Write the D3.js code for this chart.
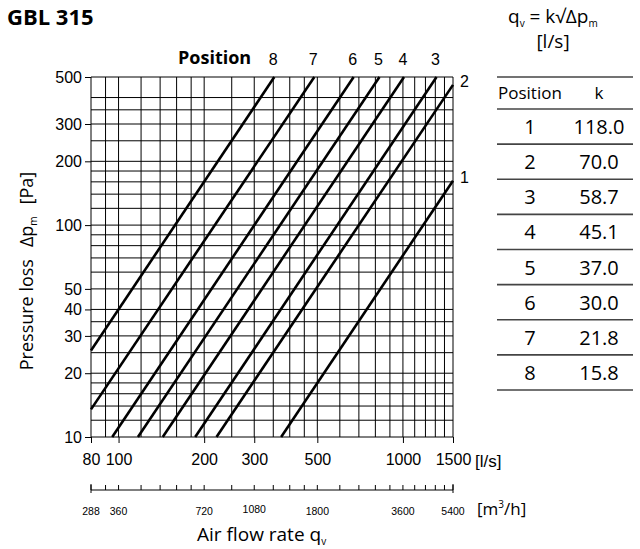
<!DOCTYPE html>
<html><head><meta charset="utf-8">
<script src="https://cdn.jsdelivr.net/npm/d3@7"></script>
<style>body{margin:0;background:#fff}svg{display:block}</style>
</head><body>
<script>
// ---- data ----
const positions = [1, 2, 3, 4, 5, 6, 7, 8];
const kValues = [118.0, 70.0, 58.7, 45.1, 37.0, 30.0, 21.8, 15.8];
// line endpoints: [q start, dp start, q end, dp end]
const lineStartQ = [373, 221, 186, 143, 117, 95, 80, 80];
const lineStartDp = [10, 10, 10, 10, 10, 10, 13.5, 25.6];
const lineEndQ = [1500, 1500, 1313, 1009, 827, 671, 488, 353];
const lineEndDp = [162, 459, 500, 500, 500, 500, 500, 500];
const gridQ = [80,90,100,120,140,160,180,200,250,300,350,400,450,500,600,700,800,900,1000,1100,1200,1300,1400,1500];
const gridDp = [10,12,14,16,18,20,25,30,35,40,50,60,70,80,90,100,120,140,160,180,200,250,300,350,400,500];
const qTicks = [80, 100, 200, 300, 500, 1000, 1500];
const dpTicks = [10, 20, 30, 40, 50, 100, 200, 300, 500];
const m3hTicks = [288, 360, 720, 1080, 1800, 3600, 5400];
const m3hMinor = gridQ.map(q => q * 3.6);

const W = 640, H = 549;
const svg = d3.select("body").append("svg").attr("width", W).attr("height", H);
const x = d3.scaleLog().domain([80, 1500]).range([91, 453]);
const y = d3.scaleLog().domain([10, 500]).range([437, 77]);
const x2 = d3.scaleLog().domain([288, 5400]).range([91, 453]);
const tickFont = "'Liberation Sans', Arial, sans-serif";
const textFont = "'Open Sans', 'Noto Sans', sans-serif";

// grid
const g = svg.append("g");
g.selectAll("line.v").data(gridQ).join("line")
  .attr("x1", d => x(d)).attr("x2", d => x(d)).attr("y1", y(500)).attr("y2", y(10))
  .attr("stroke", "#000").attr("stroke-width", 1);
g.selectAll("line.h").data(gridDp).join("line")
  .attr("y1", d => y(d)).attr("y2", d => y(d)).attr("x1", x(80)).attr("x2", x(1500))
  .attr("stroke", "#000").attr("stroke-width", 1);

// y axis
const yAxis = d3.axisLeft(y).tickValues(dpTicks).tickFormat(d3.format("d")).tickSize(6).tickPadding(3);
svg.append("g").attr("transform", `translate(${x(80)},0)`).call(yAxis)
  .call(a => a.select(".domain").remove())
  .call(a => a.selectAll("text").attr("font-family", tickFont).attr("font-size", 16).attr("fill", "#000"));

// x axis
const xAxis = d3.axisBottom(x).tickValues(qTicks).tickFormat(d3.format("d")).tickSize(6).tickPadding(11);
svg.append("g").attr("transform", `translate(0,${y(10)})`).call(xAxis)
  .call(a => a.select(".domain").remove())
  .call(a => a.selectAll("text").attr("font-family", tickFont).attr("font-size", 16).attr("fill", "#000"));
svg.append("text").attr("x", 475).attr("y", 467).attr("font-family", tickFont).attr("font-size", 17).text("[l/s]");

// secondary axis (m3/h)
const ax2 = svg.append("g").attr("transform", "translate(0,490)");
ax2.append("line").attr("x1", x2(288)).attr("x2", x2(5400)).attr("stroke", "#000");
ax2.selectAll("line.mi").data(m3hMinor).join("line")
  .attr("x1", d => x2(d)).attr("x2", d => x2(d)).attr("y1", 0).attr("y2", -5).attr("stroke", "#000");
ax2.selectAll("line.ma").data([288, 5400]).join("line")
  .attr("x1", d => x2(d)).attr("x2", d => x2(d)).attr("y1", 3).attr("y2", -6).attr("stroke", "#000");
ax2.selectAll("text").data(m3hTicks).join("text")
  .attr("x", d => x2(d)).attr("y", d => d === 1080 ? 23 : 25).attr("text-anchor", "middle")
  .attr("font-family", tickFont).attr("font-size", 10.5).text(d => d);
svg.append("text").attr("x", 477).attr("y", 515).attr("font-family", textFont).attr("font-size", 17)
  .html("[m<tspan font-size='10' dy='-7'>3</tspan><tspan dy='7'>/h]</tspan>");

// curves
const lineGen = d3.line().x(d => x(d[0])).y(d => y(d[1]));
svg.append("g").selectAll("path").data(positions).join("path")
  .attr("d", (p, i) => lineGen([[lineStartQ[i], lineStartDp[i]], [lineEndQ[i], lineEndDp[i]]]))
  .attr("fill", "none").attr("stroke", "#000").attr("stroke-width", 2.6);

// curve labels
positions.forEach((p, i) => {
  if (lineEndDp[i] >= 500) {
    svg.append("text").attr("x", x(lineEndQ[i]) - 1).attr("y", 65).attr("text-anchor", "middle")
      .attr("font-family", tickFont).attr("font-size", 16).text(p);
  } else {
    svg.append("text").attr("x", 460).attr("y", y(lineEndDp[i]) + 2).attr("font-family", tickFont)
      .attr("font-size", 16).text(p);
  }
});
svg.append("text").attr("x", 178).attr("y", 64).attr("font-family", textFont).attr("font-weight", "bold")
  .attr("font-size", 18).text("Position");

// titles
svg.append("text").attr("x", 7).attr("y", 25).attr("font-family", textFont).attr("font-weight", "bold")
  .attr("font-size", 22).text("GBL 315");
svg.append("text").attr("x", 508).attr("y", 23).attr("font-family", textFont).attr("font-size", 19)
  .html("q<tspan font-size='10' dy='4'>v</tspan><tspan dy='-4'> = k√Δp</tspan><tspan font-size='10' dy='4'>m</tspan>");
svg.append("text").attr("x", 553).attr("y", 48).attr("text-anchor", "middle").attr("font-family", textFont)
  .attr("font-size", 19).text("[l/s]");
svg.append("text").attr("transform", "translate(33,271) rotate(-90)").attr("text-anchor", "middle")
  .attr("font-family", textFont).attr("font-size", 18)
  .html("Pressure loss<tspan dx='12'>Δp</tspan><tspan font-size='10' dy='4'>m</tspan><tspan dy='-4' dx='12'>[Pa]</tspan>");
svg.append("text").attr("x", 197).attr("y", 541).attr("font-family", textFont).attr("font-size", 19)
  .html("Air flow rate q<tspan font-size='10' dy='4'>v</tspan>");

// table
const tb = svg.append("g");
const rowTop = d3.scaleLinear().domain([0, 8]).range([109, 390]);
tb.selectAll("line").data([77].concat(d3.range(9).map(i => rowTop(i)))).join("line")
  .attr("x1", 497).attr("x2", 633).attr("y1", d => d).attr("y2", d => d)
  .attr("stroke", "#444").attr("stroke-width", 1.6);
tb.append("text").attr("x", 498).attr("y", 99).attr("font-family", textFont).attr("font-size", 17).text("Position");
tb.append("text").attr("x", 599).attr("y", 99).attr("text-anchor", "middle").attr("font-family", textFont).attr("font-size", 17).text("k");
tb.selectAll("text.p").data(positions).join("text").attr("class", "p")
  .attr("x", 530).attr("y", (d, i) => rowTop(i) + 25).attr("text-anchor", "middle")
  .attr("font-family", textFont).attr("font-size", 20).text(d => d);
tb.selectAll("text.k").data(kValues).join("text").attr("class", "k")
  .attr("x", 599).attr("y", (d, i) => rowTop(i) + 25).attr("text-anchor", "middle")
  .attr("font-family", textFont).attr("font-size", 20).text(d => d.toFixed(1));
</script>
</body></html>
